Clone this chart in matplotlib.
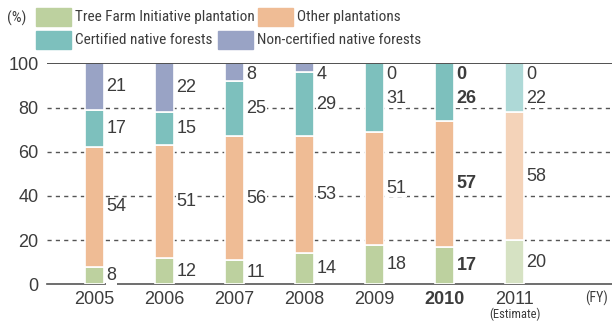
import numpy as np
import matplotlib
matplotlib.use("Agg")
import matplotlib.pyplot as plt
from matplotlib.patches import Rectangle
from matplotlib import font_manager

years = ["2005", "2006", "2007", "2008", "2009", "2010", "2011"]
tree_farm = [8, 12, 11, 14, 18, 17, 20]
other_plant = [54, 51, 56, 53, 51, 57, 58]
certified = [17, 15, 25, 29, 31, 26, 22]
non_certified = [21, 22, 8, 4, 0, 0, 0]

series = [tree_farm, other_plant, certified, non_certified]
names = ["Tree Farm Initiative plantation", "Other plantations",
         "Certified native forests", "Non-certified native forests"]
colors = ["#BDD19F", "#EFBC95", "#7DC0BD", "#99A3C5"]
light = ["#D6E2C3", "#F4D3B9", "#AED9D7", "#C9CEE0"]

avail = {f.name for f in font_manager.fontManager.ttflist}
plt.rcParams["font.family"] = ["Liberation Sans", "DejaVu Sans"]
# condensed face for the legend if there is one
if "Roboto Condensed" in avail:
    leg_fam, leg_size = ["Roboto Condensed", "DejaVu Sans"], 11
else:
    leg_fam, leg_size = ["Liberation Sans", "DejaVu Sans"], 9.5
txt = "#3c3c3c"

fig = plt.figure(figsize=(6.12, 3.22), dpi=100)
W, H = 612, 322
ax = fig.add_axes([47 / W, 1 - 284.3 / H, 565 / W, (284.3 - 63.3) / H])

x = np.arange(len(years))
bw = 0.27
bottom = np.zeros(len(years))
for k, vals in enumerate(series):
    vals = np.array(vals, dtype=float)
    cols = [colors[k]] * (len(years) - 1) + [light[k]]
    ax.bar(x, vals, bw, bottom=bottom, color=cols, edgecolor="white",
           linewidth=1.2, zorder=3)
    bottom += vals

# value labels, top segment first, pushed down to avoid overlaps
for i in range(len(years)):
    tops = np.cumsum([s[i] for s in series])
    prev = None
    for k in range(len(series) - 1, -1, -1):
        v = series[k][i]
        mid = tops[k] - v / 2
        y = min(mid, 95)
        if prev is not None:
            y = min(y, prev - 11)
        prev = y
        ax.text(i + bw / 2 + 0.035, y, str(v), fontsize=13, color=txt,
                va="center", ha="left",
                fontweight="bold" if years[i] == "2010" else "normal",
                bbox=dict(fc="white", ec="none", pad=0.5), zorder=4)

ax.set_xlim(-0.679, 7.393)
ax.set_ylim(0, 100)
ax.set_yticks([0, 20, 40, 60, 80, 100])
ax.tick_params(axis="y", length=0, labelsize=13, labelcolor=txt, pad=6)
ax.tick_params(axis="x", length=0, labelsize=13, labelcolor=txt, pad=5)
ax.set_xticks(x)
ax.set_xticklabels(years)
ax.get_xticklabels()[5].set_fontweight("bold")
for yv in [20, 40, 60, 80]:
    ax.axhline(yv, color="#555555", lw=1, ls=(0, (3, 3)), zorder=1)
ax.axhline(100, color="#333333", lw=1.2, zorder=5)
for s in ["top", "right", "left"]:
    ax.spines[s].set_visible(False)
ax.spines["bottom"].set_color("#555555")
ax.spines["bottom"].set_linewidth(1.2)

ax.text(6, -13.5, "(Estimate)", fontsize=9, color=txt, ha="center",
        va="center", family=leg_fam)
fig.text(597 / W, 1 - 298 / H, "(FY)", fontsize=10, color=txt,
         ha="center", va="center", family=leg_fam)

# legend
fig.text(7 / W, 1 - 18 / H, "(%)", fontsize=leg_size, color=txt,
         va="center", family=leg_fam)
leg = [(36, 8.5, 0), (258, 8.5, 1), (36, 31.5, 2), (218, 31.5, 3)]
for lx, ly, k in leg:
    fig.patches.append(Rectangle((lx / W, 1 - (ly + 17) / H), 35 / W, 17 / H,
                                 transform=fig.transFigure, color=colors[k]))
    fig.text((lx + 39) / W, 1 - (ly + 9) / H, names[k], fontsize=leg_size,
             color=txt, va="center", family=leg_fam)

fig.savefig("out.png", dpi=100)
